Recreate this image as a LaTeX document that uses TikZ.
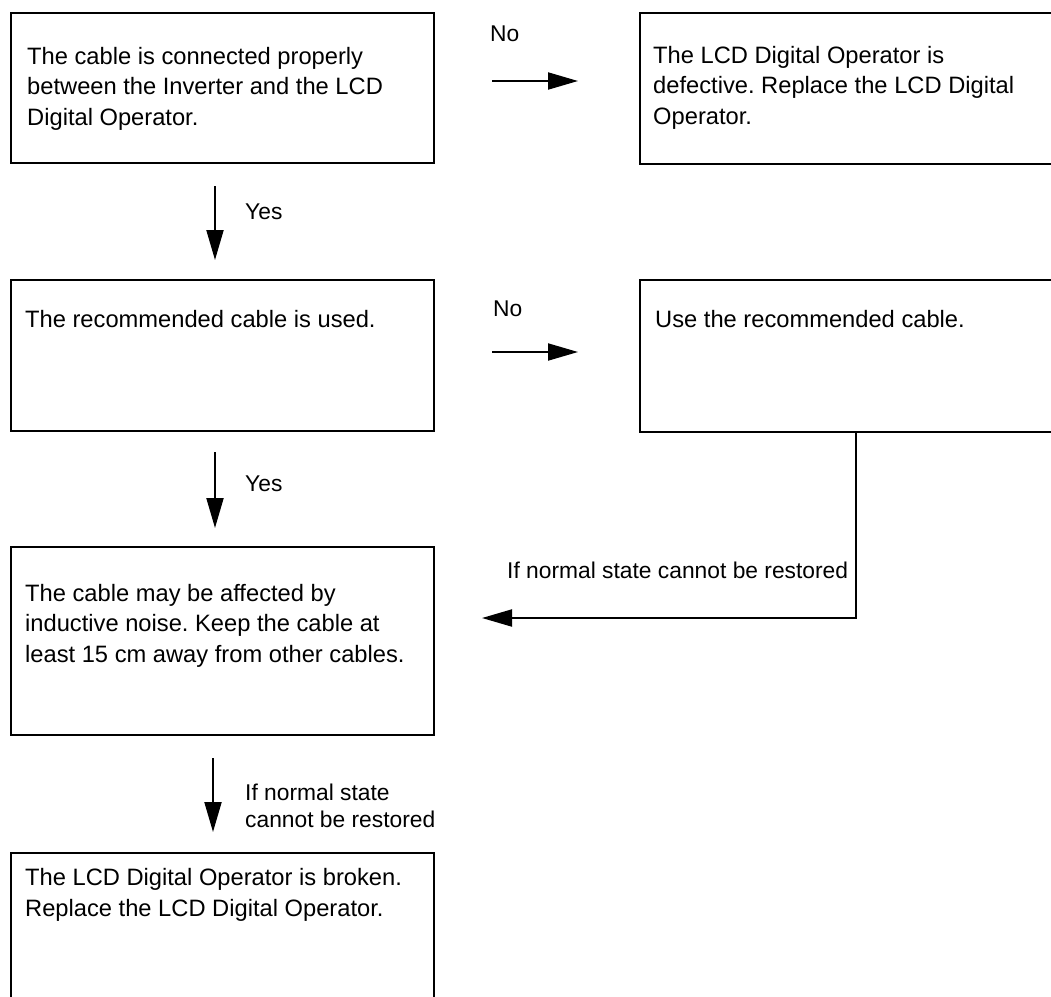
\documentclass[tikz,border=0pt]{standalone}
\usepackage{fontspec}
\setmainfont{Liberation Sans}
\usetikzlibrary{arrows.meta}
\frenchspacing
\begin{document}
\begin{tikzpicture}[x=1pt,y=-1pt,
  box/.style={draw, line width=2pt, inner sep=0pt, anchor=north west},
  txt/.style={anchor=base west, inner sep=0pt, align=left, font=\fontsize{23.7}{30.5}\selectfont},
  lbl/.style={anchor=base west, inner sep=0pt, align=left, font=\fontsize{22.8}{27}\selectfont},
  arr/.style={line width=2pt, -{Triangle[length=30pt,width=17pt]}}]
\useasboundingbox (0,0) rectangle (1051,996);
% boxes
\node[box, minimum width=423pt, minimum height=150pt] (b1) at (10,12) {};
\node[box, minimum width=421pt, minimum height=151pt] (b2) at (639,12) {};
\node[box, minimum width=423pt, minimum height=151pt] (b3) at (10,279) {};
\node[box, minimum width=421pt, minimum height=152pt] (b4) at (639,279) {};
\node[box, minimum width=423pt, minimum height=188pt] (b5) at (10,546) {};
\node[box, minimum width=423pt, minimum height=170pt] (b6) at (10,852) {};
% box texts (anchor = baseline of the last line)
\node[txt] (t1) at (27,125) {The cable is connected properly\\between the Inverter and the LCD\\Digital Operator.};
\node[txt] (t2) at (653,124) {The LCD Digital Operator is\\defective. Replace the LCD Digital\\Operator.};
\node[txt] (t3) at (25,327) {The recommended cable is used.};
\node[txt] (t4) at (655,327) {Use the recommended cable.};
\node[txt] (t5) at (25,662) {The cable may be affected by\\inductive noise. Keep the cable at\\least 15 cm away from other cables.};
\node[txt] (t6) at (25,916) {The LCD Digital Operator is broken.\\Replace the LCD Digital Operator.};
% connectors
\coordinate (n1s) at (492,81);  \coordinate (n1e) at (578,81);
\coordinate (n2s) at (492,352); \coordinate (n2e) at (578,352);
\coordinate (y1s) at (215,186); \coordinate (y1e) at (215,260);
\coordinate (y2s) at (215,452); \coordinate (y2e) at (215,528);
\coordinate (y3s) at (213,758); \coordinate (y3e) at (213,832);
\coordinate (r1) at (856,431);  \coordinate (r2) at (482,618);
\draw[arr] (n1s) -- (n1e);
\draw[arr] (n2s) -- (n2e);
\draw[arr] (y1s) -- (y1e);
\draw[arr] (y2s) -- (y2e);
\draw[arr] (y3s) -- (y3e);
\draw[arr] (r1) |- (r2);
% labels
\node[lbl] (l1) at (490,41) {No};
\node[lbl] (l2) at (493,316) {No};
\node[lbl] (l3) at (245,219) {Yes};
\node[lbl] (l4) at (245,491) {Yes};
\node[lbl] (l5) at (245,827) {If normal state\\cannot be restored};
\node[lbl] (l6) at (507,578) {If normal state cannot be restored};
\end{tikzpicture}
\end{document}
